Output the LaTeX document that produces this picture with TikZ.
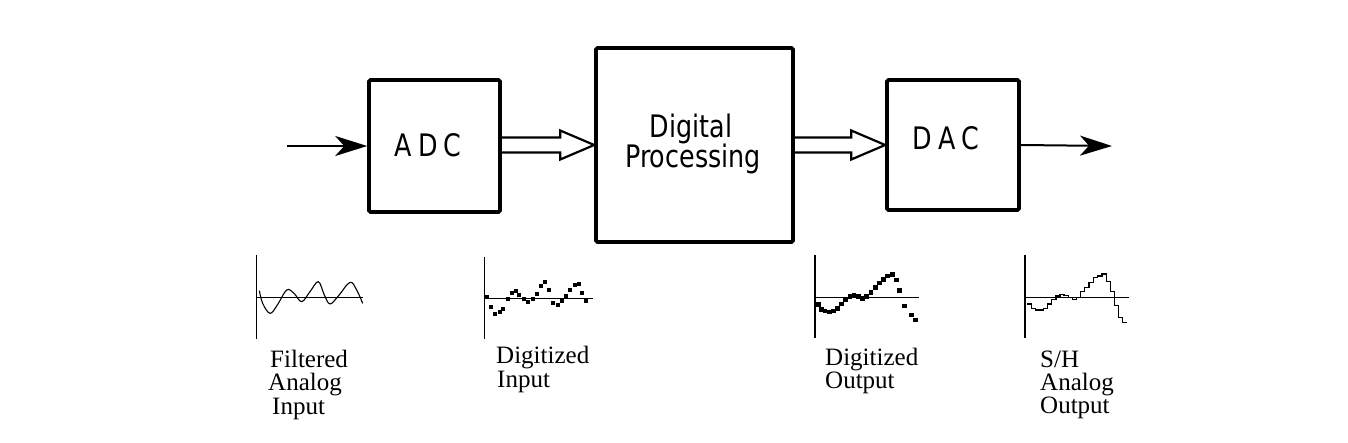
\documentclass[tikz,border=0pt]{standalone}
\usepackage{fontspec}
\setmainfont{Liberation Serif}
\newfontfamily\boxfont[FakeStretch=0.91]{DejaVu Sans Condensed}
\usetikzlibrary{arrows.meta}
\begin{document}
\begin{tikzpicture}[x=1pt,y=-1pt,
  blk/.style={draw, line width=3.6pt, rounded corners=1.5pt, inner sep=0pt},
  boxtext/.style={font=\boxfont\fontsize{31}{31}\selectfont, inner sep=0pt, anchor=base},
  sig/.style={line width=2pt, -{Stealth[length=32pt, width=20pt, inset=9pt]}},
  hollowarrow/.style={line width=2.2pt, line join=miter},
  axis/.style={line width=1.1pt},
  trace/.style={line width=1.1pt, line join=round},
  lbl/.style={font=\fontsize{25}{25}\selectfont, inner sep=0pt, anchor=base west}]
\useasboundingbox (0,0) rectangle (1348,443);
% blocks
\node[blk, minimum width=131pt, minimum height=132pt] (adc) at (434.5,146) {};
\node[blk, minimum width=197pt, minimum height=194pt] (dp) at (694.5,145) {};
\node[blk, minimum width=132pt, minimum height=130pt] (dac) at (953,145) {};
\node[boxtext] (adct) at (428,157) {A\kern6pt D\kern6pt C};
\node[boxtext] (dpt1) at (691,138) {Digital};
\node[boxtext] (dpt2) at (693,168) {Processing};
\node[boxtext] (dact) at (946,150) {D\kern6pt A\kern6pt C};
% signal arrows
\coordinate (in) at (287,146);
\coordinate (out) at (1112,146);
\draw[sig] (in) -- (adc.west);
\draw[sig] (dac.east) -- (out);
% hollow arrows
\coordinate (h1) at (adc.east |- dp.west);
\draw[hollowarrow] ([yshift=7.5pt]h1) -- ([yshift=7.5pt,xshift=-34pt]dp.west)
  -- ([yshift=14.5pt,xshift=-34pt]dp.west) -- (dp.west)
  -- ([yshift=-14.5pt,xshift=-34pt]dp.west) -- ([yshift=-7.5pt,xshift=-34pt]dp.west)
  -- ([yshift=-7.5pt]h1);
\draw[hollowarrow] ([yshift=7.5pt]dp.east) -- ([yshift=7.5pt,xshift=-34pt]dac.west)
  -- ([yshift=14.5pt,xshift=-34pt]dac.west) -- (dac.west)
  -- ([yshift=-14.5pt,xshift=-34pt]dac.west) -- ([yshift=-7.5pt,xshift=-34pt]dac.west)
  -- ([yshift=-7.5pt]dp.east);
% plot 1: filtered analog input
\begin{scope}[shift={(240,250)}, scale=0.33333]
  \draw[axis] (50,15) -- (50,268);
  \draw[axis] (50,142) -- (370,142);
  \draw[trace] plot[smooth, tension=0.6] coordinates {(58,122) (68,160) (90,190) (112,165) (140,120) (162,130) (185,155) (210,125) (235,95) (253,135) (270,162) (295,138) (330,97) (350,120) (368,160)};
\end{scope}
% plot 2: digitized input
\begin{scope}[shift={(470,250)}, scale=0.33333]
  \draw[axis] (43,20) -- (43,268);
  \draw[axis] (43,145) -- (368,145);
  \foreach \px/\py in {50/140, 63/170, 75/192, 90/185, 98/177, 115/147, 125/128, 138/124, 148/134, 162/147, 174/157, 189/147, 200/131, 213/107, 226/97, 238/119, 249/160, 263/166, 276/153, 289/138, 300/119, 314/104, 326/101, 336/128, 349/154}
    \fill ({\px-6},{\py-6}) rectangle ({\px+6},{\py+6});
\end{scope}
% plot 3: digitized output
\begin{scope}[shift={(800,250)}, scale=0.33333]
  \draw[axis] (45,15) -- (45,265);
  \draw[axis] (45,142) -- (358,142);
  \foreach \px/\py in {55/163, 65/178, 75/183, 88/186, 100/183, 112/175, 125/162, 137/148, 150/140, 162/136, 175/140, 187/146, 200/140, 213/127, 226/112, 239/99, 251/88, 263/78, 277/74, 289/90, 299/122, 313/168, 334/195, 347/210}
    \fill ({\px-7},{\py-7}) rectangle ({\px+7},{\py+7});
\end{scope}
% plot 4: S/H analog output
\begin{scope}[shift={(1010,250)}, scale=0.33333]
  \draw[axis] (45,15) -- (45,265);
  \draw[axis] (45,142) -- (357,142);
  \draw[trace, line join=miter] (52,162) -- (65,162) -- (65,175) -- (77,175) -- (77,180) -- (100,180) -- (100,175) -- (112,175) -- (112,162) -- (125,162) -- (125,148) -- (138,148) -- (138,138) -- (150,138) -- (150,133) -- (162,133) -- (162,136) -- (175,136) -- (175,142) -- (188,142) -- (188,148) -- (200,148) -- (200,142) -- (212,142) -- (212,124) -- (224,124) -- (224,112) -- (237,112) -- (237,97) -- (250,97) -- (250,82) -- (263,82) -- (263,78) -- (276,78) -- (276,72) -- (289,72) -- (289,95) -- (301,95) -- (301,125) -- (313,125) -- (313,167) -- (325,167) -- (325,202) -- (337,202) -- (337,217) -- (350,217);
\end{scope}
% labels
\node[lbl] (l1a) at (270,367) {Filtered};
\node[lbl] (l1b) at (268,390) {Analog};
\node[lbl] (l1c) at (272,414) {Input};
\node[lbl] (l2a) at (496,363) {Digitized};
\node[lbl] (l2b) at (497,387) {Input};
\node[lbl] (l3a) at (825,365) {Digitized};
\node[lbl] (l3b) at (825,388) {Output};
\node[lbl] (l4a) at (1040,367) {S/H};
\node[lbl] (l4b) at (1040,390) {Analog};
\node[lbl] (l4c) at (1040,413) {Output};
\end{tikzpicture}
\end{document}
